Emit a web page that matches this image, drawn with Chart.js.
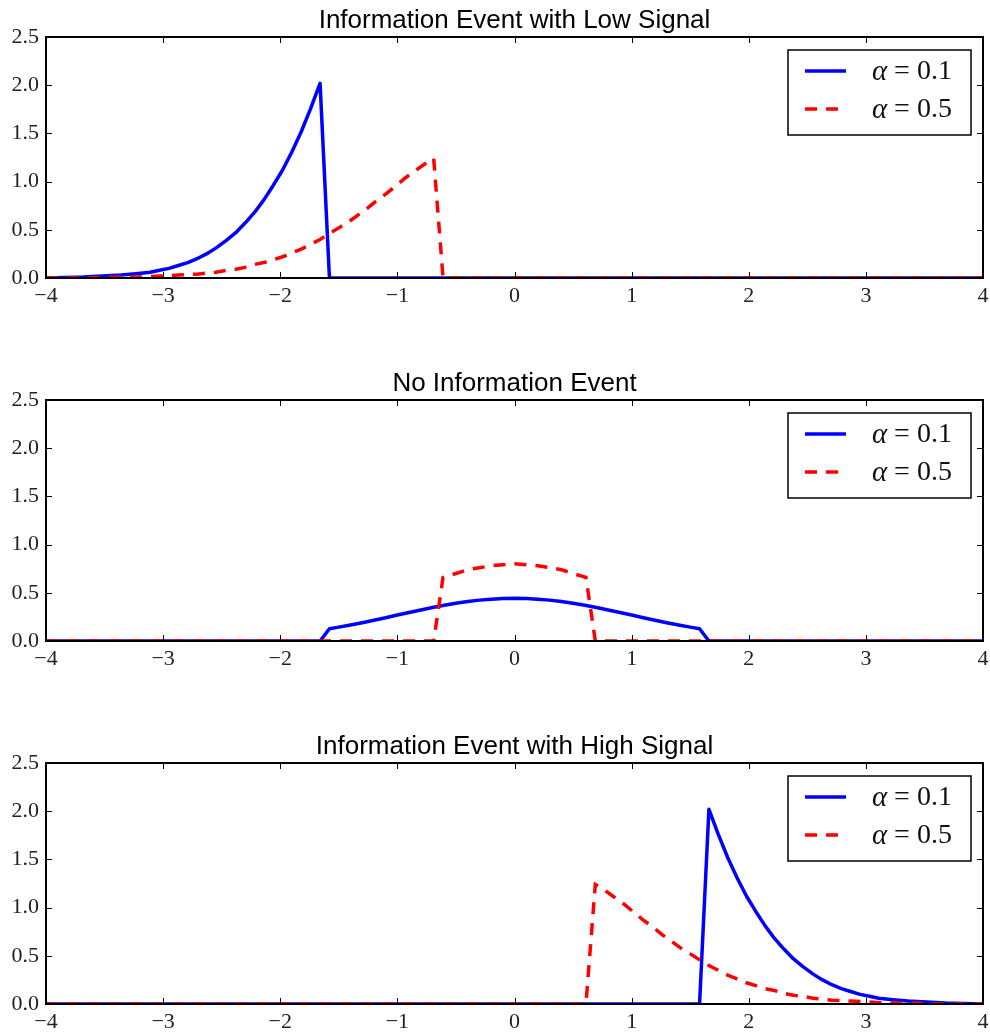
<!DOCTYPE html>
<html>
<head>
<meta charset="utf-8">
<script src="https://cdn.jsdelivr.net/npm/chart.js@4.4.1/dist/chart.umd.min.js"></script>
<style>
  body { margin: 0; background: #fff; }
  .panel { position: absolute; left: 0; width: 990px; height: 363px; }
</style>
</head>
<body>
<div class="panel" style="top:0"><canvas id="c0"></canvas></div>
<div class="panel" style="top:363px"><canvas id="c1"></canvas></div>
<div class="panel" style="top:726px"><canvas id="c2"></canvas></div>
<script>
const panelTitles = ['Information Event with Low Signal', 'No Information Event', 'Information Event with High Signal'];
const seriesAlpha = ['0.1', '0.5'];
const xTicks = [-4, -3, -2, -1, 0, 1, 2, 3, 4];
const yTicks = [0, 0.5, 1.0, 1.5, 2.0, 2.5];

// low signal
const lowBlueX = [-4, -3.68, -3.52, -3.36, -3.28, -3.19, -3.11, -3.03, -2.95, -2.87, -2.79, -2.71, -2.63, -2.55, -2.46, -2.38, -2.30, -2.22, -2.14, -2.06, -1.98, -1.90, -1.82, -1.74, -1.66, -1.58, 4];
const lowBlueY = [0.00, 0.01, 0.02, 0.03, 0.04, 0.05, 0.06, 0.08, 0.10, 0.13, 0.16, 0.20, 0.25, 0.31, 0.39, 0.47, 0.57, 0.68, 0.81, 0.96, 1.12, 1.31, 1.52, 1.76, 2.02, 0.00, 0.00];
const lowRedX = [-4, -3.68, -3.36, -3.19, -3.03, -2.87, -2.71, -2.55, -2.46, -2.38, -2.30, -2.22, -2.14, -2.06, -1.98, -1.90, -1.82, -1.74, -1.66, -1.58, -1.50, -1.42, -1.34, -1.26, -1.18, -1.10, -1.01, -0.93, -0.85, -0.77, -0.69, -0.61, 4];
const lowRedY = [0.00, 0.00, 0.01, 0.01, 0.02, 0.03, 0.04, 0.06, 0.08, 0.09, 0.11, 0.14, 0.16, 0.19, 0.22, 0.26, 0.30, 0.35, 0.40, 0.46, 0.52, 0.58, 0.65, 0.72, 0.80, 0.87, 0.96, 1.04, 1.11, 1.18, 1.24, 0.00, 0.00];

// no information
const noneBlueX = [-4, -1.66, -1.58, -1.5, -1.4, -1.3, -1.2, -1.1, -1.0, -0.9, -0.8, -0.7, -0.6, -0.5, -0.4, -0.3, -0.2, -0.1, 0, 0.1, 0.2, 0.3, 0.4, 0.5, 0.6, 0.7, 0.8, 0.9, 1.0, 1.1, 1.2, 1.3, 1.4, 1.5, 1.58, 1.66, 4];
const noneBlueY = [0, 0, 0.127, 0.144, 0.166, 0.190, 0.216, 0.242, 0.269, 0.296, 0.322, 0.347, 0.370, 0.391, 0.409, 0.424, 0.434, 0.441, 0.443, 0.441, 0.434, 0.424, 0.409, 0.391, 0.370, 0.347, 0.322, 0.296, 0.269, 0.242, 0.216, 0.190, 0.166, 0.144, 0.127, 0, 0];
const noneRedX = [-4, -0.69, -0.61, -0.5, -0.4, -0.3, -0.2, -0.1, 0, 0.1, 0.2, 0.3, 0.4, 0.5, 0.61, 0.69, 4];
const noneRedY = [0, 0, 0.66, 0.70, 0.74, 0.76, 0.78, 0.79, 0.80, 0.79, 0.78, 0.76, 0.74, 0.70, 0.66, 0, 0];

// high signal
const highBlueX = [-4, 1.58, 1.66, 1.74, 1.82, 1.90, 1.98, 2.06, 2.14, 2.22, 2.30, 2.38, 2.46, 2.55, 2.63, 2.71, 2.79, 2.87, 2.95, 3.03, 3.11, 3.19, 3.28, 3.36, 3.52, 3.68, 4];
const highBlueY = [0.00, 0.00, 2.02, 1.76, 1.52, 1.31, 1.12, 0.96, 0.81, 0.68, 0.57, 0.47, 0.39, 0.31, 0.25, 0.20, 0.16, 0.13, 0.10, 0.08, 0.06, 0.05, 0.04, 0.03, 0.02, 0.01, 0.00];
const highRedX = [-4, 0.61, 0.69, 0.77, 0.85, 0.93, 1.01, 1.10, 1.18, 1.26, 1.34, 1.42, 1.50, 1.58, 1.66, 1.74, 1.82, 1.90, 1.98, 2.06, 2.14, 2.22, 2.30, 2.38, 2.46, 2.55, 2.71, 2.87, 3.03, 3.19, 3.36, 3.68, 4];
const highRedY = [0.00, 0.00, 1.24, 1.18, 1.11, 1.04, 0.96, 0.87, 0.80, 0.72, 0.65, 0.58, 0.52, 0.46, 0.40, 0.35, 0.30, 0.26, 0.22, 0.19, 0.16, 0.14, 0.11, 0.09, 0.08, 0.06, 0.04, 0.03, 0.02, 0.01, 0.01, 0.00, 0.00];

const panels = [
  {blue: [lowBlueX, lowBlueY], red: [lowRedX, lowRedY]},
  {blue: [noneBlueX, noneBlueY], red: [noneRedX, noneRedY]},
  {blue: [highBlueX, highBlueY], red: [highRedX, highRedY]},
];

const BLUE = '#0000ff', RED = '#ff0000';
const DASH = [12, 9];
const SERIF = '"Liberation Serif", "DejaVu Serif", serif';

function toPoints(xs, ys) {
  return xs.map((x, i) => ({x: x, y: ys[i]}));
}

// box around the axes, inward ticks on all four sides, title and legend
const framePlugin = {
  id: 'frame',
  afterDatasetsDraw(chart, args, opts) {
    const ctx = chart.ctx;
    const a = chart.chartArea;
    const xs = chart.scales.x, ys = chart.scales.y;
    ctx.save();
    ctx.strokeStyle = '#000';
    ctx.lineWidth = 1;
    ctx.beginPath();
    for (const v of xTicks) {
      const px = Math.round(xs.getPixelForValue(v)) + 0.5;
      ctx.moveTo(px, a.bottom); ctx.lineTo(px, a.bottom - 6);
      ctx.moveTo(px, a.top); ctx.lineTo(px, a.top + 6);
    }
    for (const v of yTicks) {
      const py = Math.round(ys.getPixelForValue(v)) + 0.5;
      ctx.moveTo(a.left, py); ctx.lineTo(a.left + 6, py);
      ctx.moveTo(a.right, py); ctx.lineTo(a.right - 6, py);
    }
    ctx.stroke();
    ctx.lineWidth = 2;
    ctx.strokeRect(a.left, a.top, a.right - a.left, a.bottom - a.top);

    // title
    ctx.fillStyle = '#000';
    ctx.font = '26px "Liberation Sans", Arial, sans-serif';
    ctx.textAlign = 'center';
    ctx.textBaseline = 'alphabetic';
    ctx.fillText(opts.title, (a.left + a.right) / 2, a.top - 9);

    // legend
    const bw = 183, bh = 85;
    const bx = a.right - 12 - bw, by = a.top + 13;
    ctx.fillStyle = '#fff';
    ctx.fillRect(bx, by, bw, bh);
    ctx.lineWidth = 1.5;
    ctx.strokeStyle = '#000';
    ctx.strokeRect(bx, by, bw, bh);
    const rows = [{c: BLUE, dash: [], label: seriesAlpha[0]}, {c: RED, dash: DASH, label: seriesAlpha[1]}];
    rows.forEach((r, i) => {
      const cy = by + 21 + i * 38;
      ctx.strokeStyle = r.c;
      ctx.lineWidth = 3.5;
      ctx.setLineDash(r.dash);
      ctx.beginPath();
      ctx.moveTo(bx + 17, cy); ctx.lineTo(bx + 58, cy);
      ctx.stroke();
      ctx.setLineDash([]);
      ctx.fillStyle = '#111';
      ctx.textAlign = 'left';
      ctx.textBaseline = 'middle';
      ctx.font = 'italic 29px ' + SERIF;
      ctx.fillText('α', bx + 84, cy + 1);
      ctx.font = '28px ' + SERIF;
      ctx.fillText('=', bx + 106, cy + 1);
      ctx.fillText(r.label, bx + 129, cy + 1);
    });
    ctx.restore();
  }
};

panels.forEach((p, k) => {
  new Chart(document.getElementById('c' + k), {
    type: 'scatter',
    data: {
      datasets: [
        {data: toPoints(p.blue[0], p.blue[1]), showLine: true, borderColor: BLUE, borderWidth: 3.5,
         borderJoinStyle: 'round', pointRadius: 0, tension: 0, order: 1},
        {data: toPoints(p.red[0], p.red[1]), showLine: true, borderColor: RED, borderWidth: 3.5,
         borderDash: DASH, pointRadius: 0, tension: 0, order: 0},
      ]
    },
    options: {
      responsive: true,
      maintainAspectRatio: false,
      animation: false,
      devicePixelRatio: 1,
      layout: {padding: {top: 37, right: 0, left: 0, bottom: 0}},
      plugins: {legend: {display: false}, tooltip: {enabled: false}, frame: {title: panelTitles[k]}},
      scales: {
        x: {
          type: 'linear', min: -4, max: 4,
          afterBuildTicks: s => { s.ticks = xTicks.map(v => ({value: v})); },
          afterFit: s => { s.height = 85; s.paddingRight = 7; },
          grid: {display: false, drawTicks: false},
          border: {display: false},
          ticks: {
            color: '#222', padding: 5, maxRotation: 0, autoSkip: false,
            font: {family: SERIF, size: 22},
            callback: v => String(v).replace('-', '\u2212')
          }
        },
        y: {
          min: 0, max: 2.5,
          afterBuildTicks: s => { s.ticks = yTicks.map(v => ({value: v})); },
          afterFit: s => { s.width = 46; },
          grid: {display: false, drawTicks: false},
          border: {display: false},
          ticks: {
            color: '#222', padding: 7, autoSkip: false,
            font: {family: SERIF, size: 22},
            callback: v => Number(v).toFixed(1)
          }
        }
      }
    },
    plugins: [framePlugin]
  });
});
</script>
</body>
</html>
